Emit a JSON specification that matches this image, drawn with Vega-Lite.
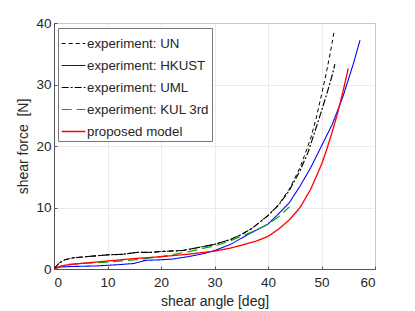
{
  "$schema": "https://vega.github.io/schema/vega-lite/v6.json",
  "width": 321,
  "height": 246,
  "autosize": {"type": "none"},
  "padding": {"left": 54, "top": 23, "right": 40, "bottom": 42},
  "background": "white",
  "config": {
    "font": "Liberation Sans",
    "view": {"stroke": "#555555", "strokeWidth": 1},
    "axis": {
      "labelFont": "Liberation Sans",
      "titleFont": "Liberation Sans",
      "labelFontSize": 13.5,
      "titleFontSize": 14,
      "titleFontWeight": "normal",
      "labelColor": "#262626",
      "titleColor": "#262626",
      "gridColor": "#e6e6e6",
      "gridWidth": 0.8,
      "domainColor": "#555555",
      "tickColor": "#555555",
      "tickSize": -3
    },
    "legend": {
      "labelFont": "Liberation Sans",
      "labelFontSize": 13.3,
      "labelColor": "#262626"
    }
  },
  "data": {
    "values": [
      {"s": "experiment: UN", "x": 0, "y": 0},
      {"s": "experiment: UN", "x": 0.5, "y": 0.6},
      {"s": "experiment: UN", "x": 1, "y": 1.0},
      {"s": "experiment: UN", "x": 2, "y": 1.5},
      {"s": "experiment: UN", "x": 3.5, "y": 1.8},
      {"s": "experiment: UN", "x": 6, "y": 2.0},
      {"s": "experiment: UN", "x": 10, "y": 2.3},
      {"s": "experiment: UN", "x": 13, "y": 2.4},
      {"s": "experiment: UN", "x": 15.5, "y": 2.7},
      {"s": "experiment: UN", "x": 18, "y": 2.7},
      {"s": "experiment: UN", "x": 20, "y": 2.85},
      {"s": "experiment: UN", "x": 24, "y": 3.0},
      {"s": "experiment: UN", "x": 27, "y": 3.5},
      {"s": "experiment: UN", "x": 30, "y": 4.0},
      {"s": "experiment: UN", "x": 33, "y": 4.8},
      {"s": "experiment: UN", "x": 35, "y": 5.6},
      {"s": "experiment: UN", "x": 37, "y": 6.6},
      {"s": "experiment: UN", "x": 40, "y": 8.7},
      {"s": "experiment: UN", "x": 42, "y": 10.5},
      {"s": "experiment: UN", "x": 44, "y": 13.0},
      {"s": "experiment: UN", "x": 46, "y": 16.5},
      {"s": "experiment: UN", "x": 48, "y": 21.3},
      {"s": "experiment: UN", "x": 49, "y": 24.5},
      {"s": "experiment: UN", "x": 50, "y": 28.3},
      {"s": "experiment: UN", "x": 51, "y": 32.3},
      {"s": "experiment: UN", "x": 52, "y": 36.8},
      {"s": "experiment: UN", "x": 52.4, "y": 38.8},

      {"s": "experiment: HKUST", "x": 0, "y": 0},
      {"s": "experiment: HKUST", "x": 1, "y": 0.3},
      {"s": "experiment: HKUST", "x": 3, "y": 0.4},
      {"s": "experiment: HKUST", "x": 8, "y": 0.5},
      {"s": "experiment: HKUST", "x": 12, "y": 0.7},
      {"s": "experiment: HKUST", "x": 15, "y": 0.9},
      {"s": "experiment: HKUST", "x": 17, "y": 1.4},
      {"s": "experiment: HKUST", "x": 20, "y": 1.5},
      {"s": "experiment: HKUST", "x": 22, "y": 1.6},
      {"s": "experiment: HKUST", "x": 25, "y": 2.0},
      {"s": "experiment: HKUST", "x": 28, "y": 2.5},
      {"s": "experiment: HKUST", "x": 30, "y": 3.0},
      {"s": "experiment: HKUST", "x": 33, "y": 4.0},
      {"s": "experiment: HKUST", "x": 36, "y": 5.5},
      {"s": "experiment: HKUST", "x": 40, "y": 7.3},
      {"s": "experiment: HKUST", "x": 42, "y": 9.0},
      {"s": "experiment: HKUST", "x": 44, "y": 10.8},
      {"s": "experiment: HKUST", "x": 46, "y": 13.5},
      {"s": "experiment: HKUST", "x": 48, "y": 16.5},
      {"s": "experiment: HKUST", "x": 50, "y": 20.0},
      {"s": "experiment: HKUST", "x": 52, "y": 23.5},
      {"s": "experiment: HKUST", "x": 54, "y": 28.0},
      {"s": "experiment: HKUST", "x": 56, "y": 33.5},
      {"s": "experiment: HKUST", "x": 57.2, "y": 37.2},

      {"s": "experiment: UML", "x": 0, "y": 0},
      {"s": "experiment: UML", "x": 0.5, "y": 0.5},
      {"s": "experiment: UML", "x": 1, "y": 1.0},
      {"s": "experiment: UML", "x": 2, "y": 1.5},
      {"s": "experiment: UML", "x": 3.5, "y": 1.8},
      {"s": "experiment: UML", "x": 6, "y": 2.0},
      {"s": "experiment: UML", "x": 10, "y": 2.3},
      {"s": "experiment: UML", "x": 13, "y": 2.4},
      {"s": "experiment: UML", "x": 15.5, "y": 2.7},
      {"s": "experiment: UML", "x": 18, "y": 2.7},
      {"s": "experiment: UML", "x": 20, "y": 2.85},
      {"s": "experiment: UML", "x": 24, "y": 3.0},
      {"s": "experiment: UML", "x": 27, "y": 3.5},
      {"s": "experiment: UML", "x": 30, "y": 4.0},
      {"s": "experiment: UML", "x": 33, "y": 4.8},
      {"s": "experiment: UML", "x": 35, "y": 5.6},
      {"s": "experiment: UML", "x": 37, "y": 6.6},
      {"s": "experiment: UML", "x": 40, "y": 8.7},
      {"s": "experiment: UML", "x": 42, "y": 10.4},
      {"s": "experiment: UML", "x": 44, "y": 12.8},
      {"s": "experiment: UML", "x": 46, "y": 16.0},
      {"s": "experiment: UML", "x": 47.5, "y": 19.0},
      {"s": "experiment: UML", "x": 49, "y": 23.0},
      {"s": "experiment: UML", "x": 50, "y": 25.7},
      {"s": "experiment: UML", "x": 51, "y": 28.5},
      {"s": "experiment: UML", "x": 52, "y": 31.5},
      {"s": "experiment: UML", "x": 52.5, "y": 33.3},

      {"s": "experiment: KUL 3rd", "x": 0, "y": 0},
      {"s": "experiment: KUL 3rd", "x": 2, "y": 0.7},
      {"s": "experiment: KUL 3rd", "x": 5, "y": 0.9},
      {"s": "experiment: KUL 3rd", "x": 10, "y": 1.1},
      {"s": "experiment: KUL 3rd", "x": 15, "y": 1.5},
      {"s": "experiment: KUL 3rd", "x": 20, "y": 2.0},
      {"s": "experiment: KUL 3rd", "x": 25, "y": 2.8},
      {"s": "experiment: KUL 3rd", "x": 28, "y": 3.4},
      {"s": "experiment: KUL 3rd", "x": 30, "y": 3.7},
      {"s": "experiment: KUL 3rd", "x": 33, "y": 4.6},
      {"s": "experiment: KUL 3rd", "x": 36, "y": 5.7},
      {"s": "experiment: KUL 3rd", "x": 38, "y": 6.4},
      {"s": "experiment: KUL 3rd", "x": 40, "y": 7.3},
      {"s": "experiment: KUL 3rd", "x": 42, "y": 8.5},
      {"s": "experiment: KUL 3rd", "x": 44, "y": 10.1},

      {"s": "proposed model", "x": 0, "y": 0},
      {"s": "proposed model", "x": 1, "y": 0.4},
      {"s": "proposed model", "x": 2, "y": 0.6},
      {"s": "proposed model", "x": 5, "y": 0.9},
      {"s": "proposed model", "x": 10, "y": 1.3},
      {"s": "proposed model", "x": 15, "y": 1.7},
      {"s": "proposed model", "x": 20, "y": 2.0},
      {"s": "proposed model", "x": 25, "y": 2.4},
      {"s": "proposed model", "x": 30, "y": 2.9},
      {"s": "proposed model", "x": 33, "y": 3.4},
      {"s": "proposed model", "x": 36, "y": 4.1},
      {"s": "proposed model", "x": 38, "y": 4.6},
      {"s": "proposed model", "x": 40, "y": 5.3},
      {"s": "proposed model", "x": 42, "y": 6.5},
      {"s": "proposed model", "x": 44, "y": 8.0},
      {"s": "proposed model", "x": 46, "y": 10.0},
      {"s": "proposed model", "x": 48, "y": 13.0},
      {"s": "proposed model", "x": 50, "y": 17.0},
      {"s": "proposed model", "x": 51, "y": 19.5},
      {"s": "proposed model", "x": 52, "y": 22.3},
      {"s": "proposed model", "x": 53, "y": 25.3},
      {"s": "proposed model", "x": 54, "y": 28.8},
      {"s": "proposed model", "x": 55, "y": 32.6}
    ]
  },
  "layer": [
    {
      "mark": {"type": "line", "clip": true},
      "encoding": {
        "x": {"field": "x", "type": "quantitative", "scale": {"domain": [0, 60], "nice": false},
              "axis": {"title": "shear angle [deg]", "values": [0, 10, 20, 30, 40, 50, 60], "grid": true, "labelPadding": 9, "titlePadding": 6}},
        "y": {"field": "y", "type": "quantitative", "scale": {"domain": [0, 40], "nice": false},
              "axis": {"title": "shear force \u00a0[N]", "values": [0, 10, 20, 30, 40], "grid": true, "labelPadding": 6, "titlePadding": 5}},
        "detail": {"field": "s"},
        "color": {"field": "s", "type": "nominal",
          "scale": {"domain": ["experiment: UN", "experiment: HKUST", "experiment: UML", "experiment: KUL 3rd", "proposed model"],
                    "range": ["#000000", "#0000ff", "#000000", "#00b000", "#ff0000"]},
          "legend": {"title": null, "orient": "none", "legendX": 4, "legendY": 5, "symbolType": "stroke", "symbolSize": 560,
                     "fillColor": "white", "strokeColor": "#777777", "padding": 3, "rowPadding": 3, "labelOffset": 1, "labelLimit": 300,
                     "encode": {"symbols": {"update": {"strokeWidth": {"scale": "strokeWidth", "field": "value"}}}}}},
        "strokeDash": {"field": "s", "type": "nominal",
          "scale": {"domain": ["experiment: UN", "experiment: HKUST", "experiment: UML", "experiment: KUL 3rd", "proposed model"],
                    "range": [[4, 3], [1, 0], [7, 2, 2, 2], [10, 5], [1, 0]]},
          "legend": {"title": null}},
        "strokeWidth": {"field": "s", "type": "ordinal",
          "scale": {"domain": ["experiment: UN", "experiment: HKUST", "experiment: UML", "experiment: KUL 3rd", "proposed model"],
                    "range": [1, 1.3, 2.4, 3.5, 1.5]},
          "legend": {"title": null}}
      }
    }
  ]
}
